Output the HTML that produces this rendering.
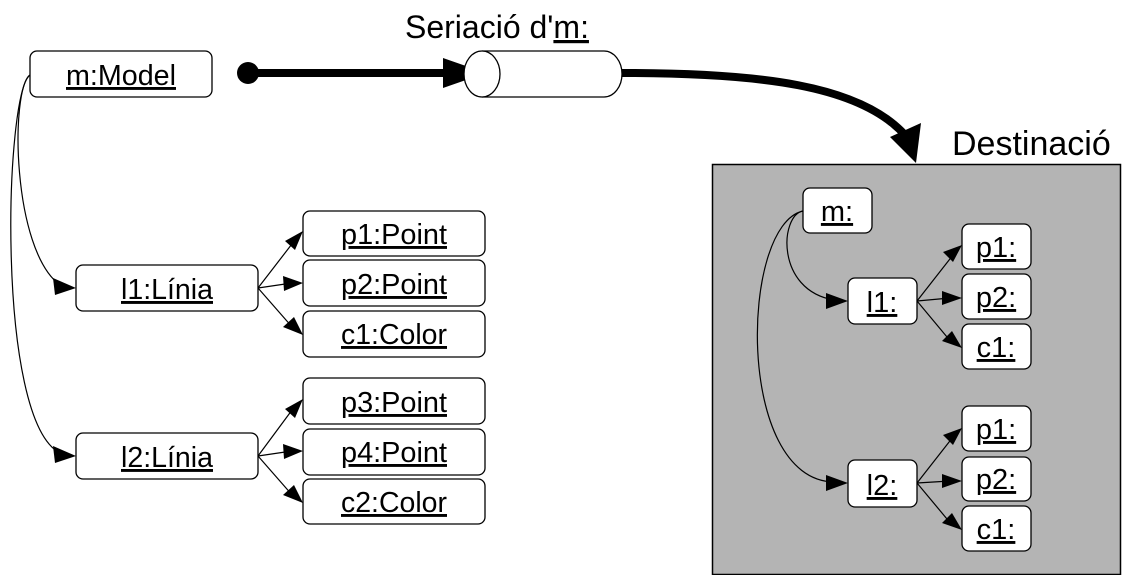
<!DOCTYPE html>
<html><head><meta charset="utf-8"><style>
html,body{margin:0;padding:0;background:#fff;}
svg{display:block;}
text{font-family:"Liberation Sans",Arial,sans-serif;}
</style></head><body>
<svg width="1122" height="575" viewBox="0 0 1122 575" xmlns="http://www.w3.org/2000/svg">
<rect x="712.5" y="164.5" width="408" height="410" fill="#b4b4b4" stroke="#000" stroke-width="1.5"/>

<text x="405" y="38" font-size="32">Seriació d'<tspan text-decoration="underline">m:</tspan></text>
<text x="952" y="155" font-size="34">Destinació</text>

<circle cx="248" cy="73" r="11" fill="#000"/>
<line x1="248" y1="73" x2="450" y2="73" stroke="#000" stroke-width="8"/>
<polygon points="443,58 486,73 443,88" fill="#000"/>
<path d="M482,51 L604,51 A18,23 0 0 1 604,97 L482,97" fill="#fff" stroke="#000" stroke-width="1.3"/>
<ellipse cx="482" cy="74" rx="18" ry="23" fill="#fff" stroke="#000" stroke-width="1.3"/>
<path d="M622,73 C760,73 860,85 905,135" fill="none" stroke="#000" stroke-width="8"/>
<polygon points="890,137 916,163 921,123" fill="#000"/>

<g fill="#fff" stroke="#000" stroke-width="1.3">
<rect x="30" y="51" width="182" height="46" rx="7"/>
<rect x="76" y="265" width="182" height="46" rx="7"/>
<rect x="76" y="433" width="182" height="46" rx="7"/>
<rect x="303" y="211" width="182" height="45" rx="7"/>
<rect x="303" y="260" width="182" height="46" rx="7"/>
<rect x="303" y="311" width="182" height="46" rx="7"/>
<rect x="303" y="378" width="182" height="46" rx="7"/>
<rect x="303" y="429" width="182" height="46" rx="7"/>
<rect x="303" y="479" width="182" height="45" rx="7"/>

<rect x="803" y="188" width="69" height="45" rx="7"/>
<rect x="848" y="278" width="69" height="46" rx="7"/>
<rect x="848" y="460" width="69" height="47" rx="7"/>
<rect x="962" y="224" width="69" height="45" rx="7"/>
<rect x="962" y="274" width="69" height="45" rx="7"/>
<rect x="962" y="324" width="69" height="45" rx="7"/>
<rect x="962" y="406" width="69" height="45" rx="7"/>
<rect x="962" y="457" width="69" height="44" rx="7"/>
<rect x="962" y="506" width="69" height="45" rx="7"/>
</g>

<g font-size="29" text-anchor="middle" text-decoration="underline" fill="#000">
<text x="121" y="85" textLength="110" lengthAdjust="spacingAndGlyphs">m:Model</text>
<text x="167" y="299" textLength="92" lengthAdjust="spacingAndGlyphs">l1:Línia</text>
<text x="167" y="467" textLength="92" lengthAdjust="spacingAndGlyphs">l2:Línia</text>
<text x="394" y="244" textLength="106" lengthAdjust="spacingAndGlyphs">p1:Point</text>
<text x="394" y="294" textLength="106" lengthAdjust="spacingAndGlyphs">p2:Point</text>
<text x="394" y="344" textLength="106" lengthAdjust="spacingAndGlyphs">c1:Color</text>
<text x="394" y="412" textLength="106" lengthAdjust="spacingAndGlyphs">p3:Point</text>
<text x="394" y="462" textLength="106" lengthAdjust="spacingAndGlyphs">p4:Point</text>
<text x="394" y="512" textLength="106" lengthAdjust="spacingAndGlyphs">c2:Color</text>
<text x="837" y="221">m:</text>
<text x="882" y="312">l1:</text>
<text x="882" y="495">l2:</text>
<text x="996" y="257">p1:</text>
<text x="996" y="307">p2:</text>
<text x="996" y="357">c1:</text>
<text x="996" y="439">p1:</text>
<text x="996" y="489">p2:</text>
<text x="996" y="539">c1:</text>
</g>

<g fill="none" stroke="#000" stroke-width="1.2">
<path d="M30,75 C10,90 12,250 60,285"/>
<path d="M30,75 C5,90 -5,420 60,453"/>
<path d="M258,288 L295,240"/>
<path d="M258,288 L292,283"/>
<path d="M258,288 L293,328"/>
<path d="M258,456 L295,406"/>
<path d="M258,456 L292,451"/>
<path d="M258,456 L293,496"/>

<path d="M803,211 C780,215 775,290 834,300"/>
<path d="M803,211 C740,225 735,480 834,482"/>
<path d="M917,301 L953,255"/>
<path d="M917,301 L950,298"/>
<path d="M917,301 L952,343"/>
<path d="M917,483 L953,437"/>
<path d="M917,483 L950,481"/>
<path d="M917,483 L952,525"/>
</g>
<g fill="#000">
<polygon points="76,288 53,278 55,295"/>
<polygon points="76,456 53,446 55,463"/>
<polygon points="303,231 285,241 295,250"/>
<polygon points="303,283 283,276 284,291"/>
<polygon points="303,335 283,327 294,317"/>
<polygon points="303,399 285,409 295,418"/>
<polygon points="303,451 283,444 284,459"/>
<polygon points="303,503 283,495 294,485"/>

<polygon points="848,301 826,293 826,309"/>
<polygon points="848,483 826,475 826,491"/>
<polygon points="962,245 943,252 953,262"/>
<polygon points="962,298 942,291 942,305"/>
<polygon points="962,348 942,341 952,331"/>
<polygon points="962,428 943,435 953,445"/>
<polygon points="962,481 942,474 942,488"/>
<polygon points="962,530 942,523 952,513"/>
</g>
</svg>
</body></html>
